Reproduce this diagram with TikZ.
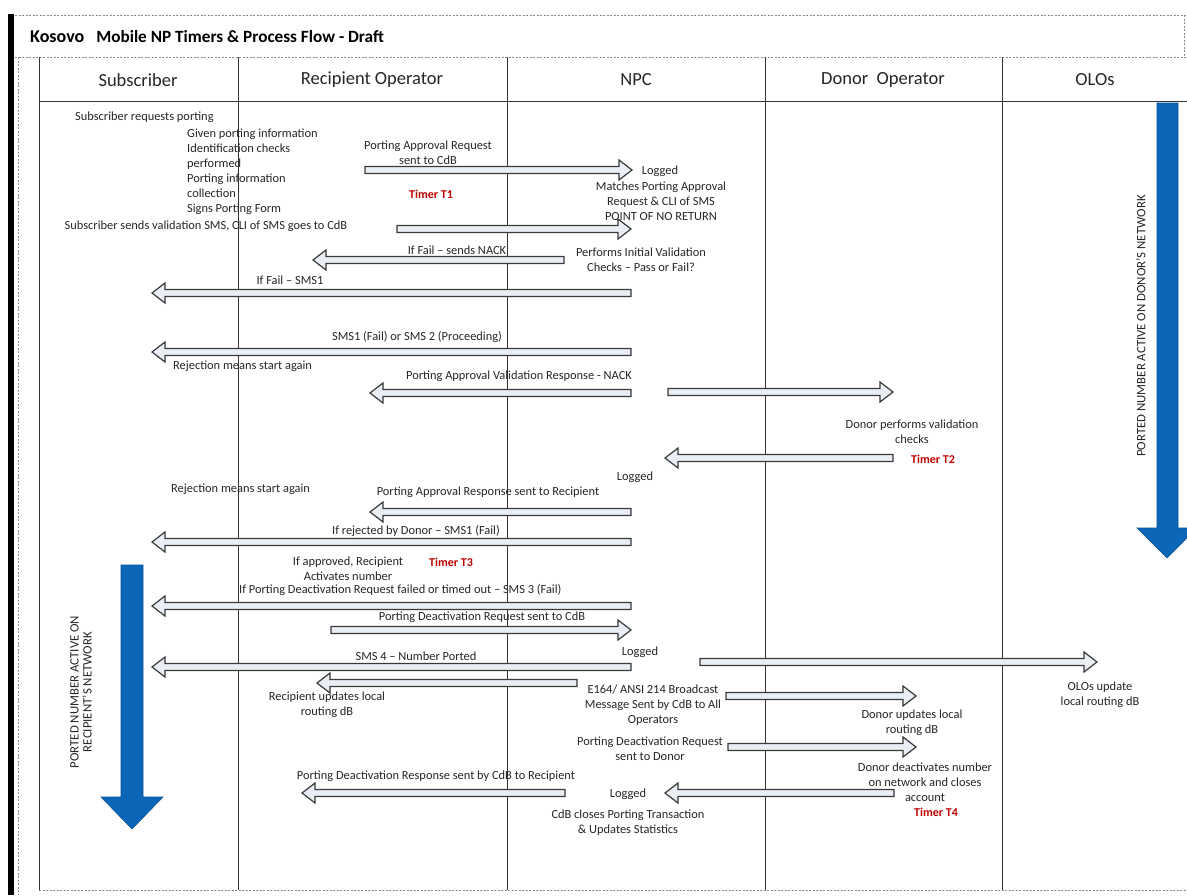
\documentclass[tikz,border=0pt]{standalone}
\usepackage{fontspec}
\setmainfont{Carlito}
\usetikzlibrary{calc}
\definecolor{arrowfill}{HTML}{E9EEF5}
\definecolor{arrowline}{HTML}{3A3A3A}
\definecolor{timerred}{HTML}{C00000}
\definecolor{bigblue}{HTML}{0B66B8}
\definecolor{dashgray}{HTML}{8A8A8A}
\begin{document}
\begin{tikzpicture}[x=1pt,y=-1pt,
  txt/.style={inner sep=0pt, font=\fontsize{12.4}{15}\selectfont, align=center, text=black!85},
  ltxt/.style={txt, align=left},
  head/.style={inner sep=0pt, font=\fontsize{18.5}{20}\selectfont, text=black!85},
  timer/.style={inner sep=0pt, font=\bfseries\fontsize{12}{14}\selectfont, text=timerred},
  vtxt/.style={inner sep=0pt, rotate=90, align=center, font=\fontsize{12.8}{13}\selectfont, text=black!85},
  dashline/.style={draw=dashgray, line width=0.8pt, dash pattern=on 2pt off 1.5pt},
  colline/.style={draw=black!80, line width=1pt},
  bigarrow/.style={fill=bigblue, draw=bigblue!80!black, line width=0.6pt},
  fatarrow/.style={draw=arrowline, fill=arrowfill, line width=1.2pt, line join=miter,
    to path={let \p1=(\tikztostart), \p2=(\tikztotarget), \n1={(\x2>\x1)*2-1} in
      ({\x1},{\y1+3.5pt}) -- ({\x2-(\n1)*13pt},{\y1+3.5pt}) -- ({\x2-(\n1)*13pt},{\y1+10pt}) -- ({\x2},{\y1})
      -- ({\x2-(\n1)*13pt},{\y1-10pt}) -- ({\x2-(\n1)*13pt},{\y1-3.5pt}) -- ({\x1},{\y1-3.5pt}) -- cycle}}
]
\useasboundingbox (0,0) rectangle (1187,895);
\fill[white] (0,0) rectangle (1187,895);

% frame
\fill[black] (8,14) rectangle (14,895);
\draw[dashline] (15,15) -- (1187,15);
\draw[dashline] (15,57) -- (1187,57);
\draw[dashline] (18,57) -- (18,895);
\draw[dashline] (1184,15) -- (1184,57);
\draw[dashline] (39,890) -- (1187,890);

\node[anchor=base west, inner sep=0pt] (title) at (30,42)
  {\bfseries\fontsize{18}{20}\selectfont Kosovo\hspace{12pt}\fontsize{17.2}{19}\selectfont Mobile NP Timers \& Process Flow - Draft};

% table
\draw[colline] (39,57) -- (39,890);
\draw[colline] (238,57) -- (238,890);
\draw[colline] (507,57) -- (507,890);
\draw[colline] (765,57) -- (765,890);
\draw[colline] (1002,57) -- (1002,890);
\draw[colline] (39,101) -- (1187,101);

\node[head] (hsub) at (138,80) {Subscriber};
\node[head] (hrec) at (372,80) {Recipient Operator};
\node[head] (hnpc) at (636,80) {NPC};
\node[head] (hdon) at (883,80) {Donor\ \ Operator};
\node[head] (holo) at (1095,80) {OLOs};

% big blue arrows
\path[bigarrow] (1157,103) -- (1178,103) -- (1178,528) -- (1197,528) -- (1167,558) -- (1137,528) -- (1157,528) -- cycle;
\node[vtxt] (r1) at (1141,326) {PORTED NUMBER ACTIVE ON DONOR'S NETWORK};
\path[bigarrow] (121,565) -- (143,565) -- (143,797) -- (163,797) -- (132,829) -- (101,797) -- (121,797) -- cycle;
\node[vtxt] (r2) at (81,692) {PORTED NUMBER ACTIVE ON\\RECIPIENT'S NETWORK};

% texts
\node[ltxt, anchor=west] (s1) at (75,117) {Subscriber requests porting};
\node[ltxt, anchor=west] (s2) at (187,171.5) {Given porting information\\Identification checks\\performed\\Porting information\\collection\\Signs Porting Form};
\node[txt] (s3) at (206,226) {Subscriber sends validation SMS, CLI of SMS goes to CdB};
\node[txt] (n1) at (428,152.5) {Porting Approval Request\\sent to CdB};
\node[txt] (n2) at (660,171) {Logged};
\node[txt] (n3) at (661,201) {Matches Porting Approval\\Request \& CLI of SMS\\POINT OF NO RETURN};
\node[timer] (t1) at (431,194) {Timer T1};
\node[txt] (n4) at (457,250) {If Fail – sends NACK};
\node[txt] (n5) at (641,259.5) {Performs Initial Validation\\Checks – Pass or Fail?};
\node[txt] (n6) at (290,280) {If Fail – SMS1};
\node[txt] (n7) at (417,337) {SMS1 (Fail) or SMS 2 (Proceeding)};
\node[ltxt, anchor=west] (n8) at (173,366) {Rejection means start again};
\node[txt] (n9) at (519,376) {Porting Approval Validation Response - NACK};
\node[txt] (n10) at (912,432) {Donor performs validation\\checks};
\node[timer] (t2) at (933,459) {Timer T2};
\node[txt] (n11) at (635,477) {Logged};
\node[ltxt, anchor=west] (n12) at (171,489) {Rejection means start again};
\node[txt] (n13) at (488,492) {Porting Approval Response sent to Recipient};
\node[txt] (n14) at (416,531) {If rejected by Donor – SMS1 (Fail)};
\node[txt] (n15) at (348,569) {If approved, Recipient\\Activates number};
\node[timer] (t3) at (451,562) {Timer T3};
\node[txt, anchor=west] (n16) at (239,590) {If Porting Deactivation Request failed or timed out – SMS 3 (Fail)};
\node[txt] (n17) at (482,617) {Porting Deactivation Request sent to CdB};
\node[txt] (n18) at (416,656) {SMS 4 – Number Ported};
\node[txt] (n19) at (640,652) {Logged};
\node[txt] (n20) at (653,705) {E164/ ANSI 214 Broadcast\\Message Sent by CdB to All\\Operators};
\node[txt] (n21) at (327,704.5) {Recipient updates local\\routing dB};
\node[txt] (n22) at (1100,695) {OLOs update\\local routing dB};
\node[txt] (n23) at (912,722.5) {Donor updates local\\routing dB};
\node[txt] (n24) at (650,749) {Porting Deactivation Request\\sent to Donor};
\node[txt] (n25) at (925,782) {Donor deactivates number\\on network and closes\\account};
\node[timer] (t4) at (936,812) {Timer T4};
\node[txt] (n26) at (436,776) {Porting Deactivation Response sent by CdB to Recipient};
\node[txt] (n27) at (628,794) {Logged};
\node[txt] (n28) at (628,822.5) {CdB closes Porting Transaction\\\& Updates Statistics};

% arrow end points
\coordinate (a1s) at (365,170);  \coordinate (a1e) at (632,170);
\coordinate (a2s) at (397,229);  \coordinate (a2e) at (631,229);
\coordinate (a3s) at (564,260);  \coordinate (a3e) at (313,260);
\coordinate (a4s) at (631,293);  \coordinate (a4e) at (152,293);
\coordinate (a5s) at (631,352);  \coordinate (a5e) at (152,352);
\coordinate (a6s) at (631,393);  \coordinate (a6e) at (370,393);
\coordinate (a7s) at (668,392);  \coordinate (a7e) at (893,392);
\coordinate (a8s) at (893,458);  \coordinate (a8e) at (665,458);
\coordinate (a9s) at (631,512);  \coordinate (a9e) at (370,512);
\coordinate (a10s) at (631,542); \coordinate (a10e) at (152,542);
\coordinate (a11s) at (631,606); \coordinate (a11e) at (152,606);
\coordinate (a12s) at (331,630); \coordinate (a12e) at (631,630);
\coordinate (a13s) at (631,667); \coordinate (a13e) at (152,667);
\coordinate (a14s) at (700,662); \coordinate (a14e) at (1097,662);
\coordinate (a15s) at (577,683); \coordinate (a15e) at (317,683);
\coordinate (a16s) at (726,696); \coordinate (a16e) at (916,696);
\coordinate (a17s) at (728,747); \coordinate (a17e) at (916,747);
\coordinate (a18s) at (565,793); \coordinate (a18e) at (302,793);
\coordinate (a19s) at (894,793); \coordinate (a19e) at (665,793);

\foreach \i in {1,...,19} {
  \draw[fatarrow] (a\i s) to (a\i e);
}
\end{tikzpicture}
\end{document}
